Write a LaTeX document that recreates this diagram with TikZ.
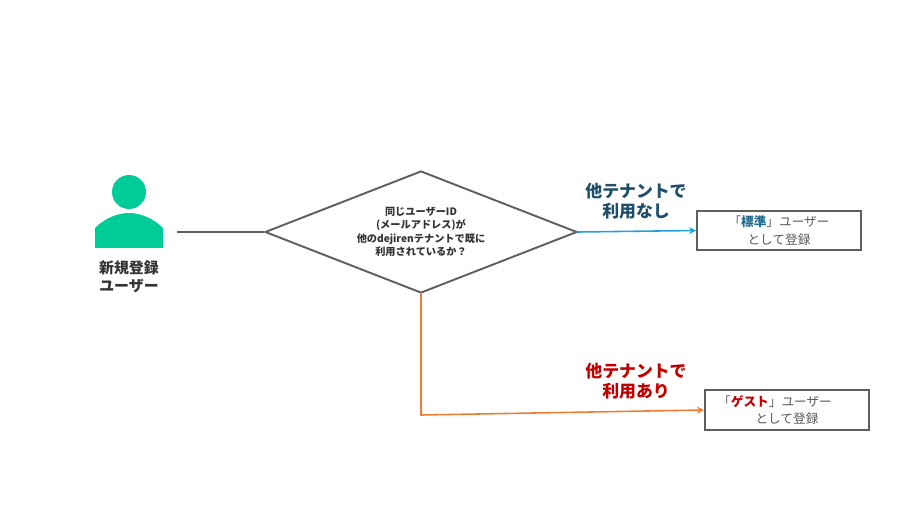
\documentclass[tikz,border=0pt]{standalone}
\usepackage{fontspec}
\setmainfont{Noto Sans CJK JP}
\usetikzlibrary{shapes.geometric,arrows.meta}
\definecolor{linegray}{HTML}{5F5F5F}
\definecolor{textgray}{HTML}{595959}
\definecolor{usergreen}{HTML}{00CC99}
\definecolor{nonecolor}{HTML}{1F4E6B}
\definecolor{noneword}{HTML}{1F6A91}
\definecolor{usedcolor}{HTML}{C00000}
\definecolor{noneline}{HTML}{1FA2DC}
\definecolor{usedline}{HTML}{ED7D31}
\tikzset{
	question/.style={diamond,draw=linegray,line width=1.1pt,inner sep=0pt,aspect=2.557,minimum width=6.24cm,minimum height=2.44cm,align=center,font=\fontsize{5.8}{7.7}\selectfont\bfseries,text=black!80},
	result/.style={rectangle,draw=linegray,line width=1.1pt,minimum width=3.28cm,minimum height=0.79cm,inner sep=0pt,align=center,font=\fontsize{7.2}{10}\selectfont,text=textgray},
	branch/.style={align=center,font=\fontsize{9.6}{11.4}\selectfont\bfseries},
	arrowline/.style={line width=0.9pt,-{Stealth[length=4pt,width=4pt]}}
}
\begin{document}
\begin{tikzpicture}
	\useasboundingbox (0,0) rectangle (18.2,10.24);
	
	% draw user
	\fill[usergreen] (2.58,6.4) circle (0.34);
	\fill[usergreen] (1.9,5.28) -- (1.9,5.68) .. controls (2.1,5.88) and (2.36,5.98) .. (2.58,5.98) .. controls (2.8,5.98) and (3.06,5.88) .. (3.26,5.68) -- (3.26,5.28) -- cycle;
	\node[align=center,font=\fontsize{8.5}{10.2}\selectfont\bfseries,text=black!80] (newuser) at (2.58,4.7) {新規登録\\ユーザー};
	
	% draw nodes
	\coordinate (start) at (3.54,5.6);
	\node[question] (check) at (8.42,5.6) {同じユーザーID\\(メールアドレス)が\\他のdejirenテナントで既に\\利用されているか？};
	\node[result] (standard) at (15.58,5.63) {「\textbf{\textcolor{noneword}{標準}}」ユーザー\\として登録};
	\node[result] (guest) at (15.74,2.04) {「\textbf{\textcolor{usedcolor}{ゲスト}}」ユーザー\hspace*{13.6pt}\\として登録};
	
	% draw branch labels
	\node[branch,text=nonecolor] (nonelabel) at (12.72,6.22) {他テナントで\\利用なし};
	\node[branch,text=usedcolor] (usedlabel) at (12.72,2.62) {他テナントで\\利用あり};
	
	% draw connectors
	\draw[linegray,line width=1.1pt] (start) -- (check.west);
	\draw[arrowline,noneline] (check.east) -- (standard.west);
	\draw[arrowline,usedline] (check.south) -- (8.42,1.94) -- (guest.west);
\end{tikzpicture}
\end{document}
